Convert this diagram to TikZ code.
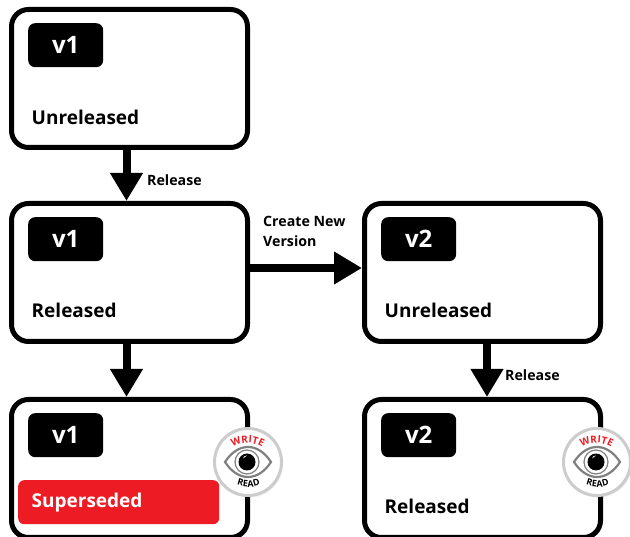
\documentclass[tikz,border=0pt]{standalone}
\usepackage{fontspec}
\setmainfont{Open Sans}
\usepackage{tikz}
\usetikzlibrary{arrows.meta, positioning, shadows, decorations.text}
\definecolor{supred}{HTML}{ED1C24}
\tikzstyle{stagebox}=[draw,line width=5pt,rounded corners=17pt,fill=white,minimum width=236pt,minimum height=138pt,outer sep=2.5pt,inner sep=0pt]
\tikzstyle{vertag}=[fill=black,text=white,rounded corners=7pt,minimum width=75pt,minimum height=44pt,inner sep=0pt,font=\bfseries\fontsize{24}{24}\selectfont]
\tikzstyle{stagelabel}=[inner sep=0pt,text depth=0pt,font=\bfseries\fontsize{19}{19}\selectfont]
\tikzstyle{steplabel}=[inner sep=0pt,align=left,font=\bfseries\fontsize{14.2}{20}\selectfont]
\tikzstyle{flow}=[line width=8pt,-{Triangle[length=28pt,width=31pt]}]
\tikzstyle{badgeface}=[circle,draw=black!20,line width=3pt,fill=white,minimum size=67pt,inner sep=0pt,circular drop shadow={shadow xshift=1pt,shadow yshift=-1.5pt,opacity=.35,shadow scale=1.03}]
\newcommand{\writefont}{\bfseries\fontsize{10}{10}\selectfont\color{supred}}
\newcommand{\readfont}{\bfseries\fontsize{9}{9}\selectfont}
% round eye sign on a box edge
\newcommand{\eyebadge}[2]{
  \node[badgeface] (#1) at (#2) {};
  \begin{scope}[shift={(#2)}]
    \draw[black!50,line width=2.2pt] (-23,0) .. controls (-10,-20) and (10,-20) .. (23,0) .. controls (10,20) and (-10,20) .. (-23,0) -- cycle;
    \draw[black!50,line width=1.2pt,fill=white] (-1,0) circle (12);
    \fill[black] (-1,0) circle (8.5);
    \fill[white] (-5,-3.5) .. controls (-4.5,-5.5) and (-3,-6.5) .. (-1,-6.5) .. controls (-2.5,-5.5) and (-3.5,-4.5) .. (-5,-3.5) -- cycle;
    \path[decorate,decoration={text along path,text align=center,text={|\writefont|WRITE}}] (-18,-13) .. controls (-8,-21) and (7,-21) .. (17,-13);
    \path[decorate,decoration={text along path,text align=center,text={|\readfont|READ}}] (-13,22) .. controls (-5,26) and (6,26) .. (14,22);
  \end{scope}
}

\begin{document}
\begin{tikzpicture}[x=1pt,y=-1pt]
  \useasboundingbox (0,0) rectangle (630,537);
  \clip (0,0) rectangle (630,537);

  \node[stagebox] (unrel1) at (129.5,78.5) {};
  \node[stagebox, below=51pt of unrel1] (rel1) {};
  \node[stagebox, below=53pt of rel1] (sup1) {};
  \node[stagebox, right=112pt of rel1] (unrel2) {};
  \node[stagebox, below=53pt of unrel2] (rel2) {};

  % tags and states
  \foreach \stage/\ver in {unrel1/v1,rel1/v1,sup1/v1,unrel2/v2,rel2/v2}
    \node[vertag, below right=16pt and 19pt of \stage.north west] (tag-\stage) {\ver};
  \node[stagelabel, anchor=base west] (state-unrel1) at ([xshift=22.5pt,yshift=-117.5pt]unrel1.north west) {Unreleased};
  \node[stagelabel, anchor=base west] (state-rel1) at ([xshift=22.5pt,yshift=-117pt]rel1.north west) {Released};
  \node[stagelabel, anchor=base west] (state-unrel2) at ([xshift=22.5pt,yshift=-117pt]unrel2.north west) {Unreleased};
  \node[stagelabel, anchor=base west] (state-rel2) at ([xshift=22.5pt,yshift=-117pt]rel2.north west) {Released};
  \node[fill=supred,rounded corners=6pt,minimum width=201pt,minimum height=44pt,inner sep=0pt, below right=83pt and 9pt of sup1.north west] (redbar) {};
  \node[stagelabel, text=white, anchor=base west] (state-sup1) at ([xshift=22.5pt,yshift=-111pt]sup1.north west) {Superseded};

  % arrows
  \draw[flow] ([xshift=-3pt]unrel1.south) -- ([xshift=-3pt]rel1.north);
  \draw[flow] ([xshift=-3pt]rel1.south) -- ([xshift=-3pt]sup1.north);
  \draw[flow] (rel1.east |- 0,268) -- (unrel2.west |- 0,268);
  \draw[flow] ([xshift=4.5pt]unrel2.south) -- ([xshift=4.5pt]rel2.north);

  \node[steplabel, anchor=west] (rel-a) at (147,180) {Release};
  \node[steplabel, anchor=west] (rel-b) at (505,375) {Release};
  \node[steplabel, anchor=base west] (newver) at (263,247) {Create New\\Version};

  \eyebadge{eye1}{248,462}
  \eyebadge{eye2}{597,462}
\end{tikzpicture}
\end{document}
